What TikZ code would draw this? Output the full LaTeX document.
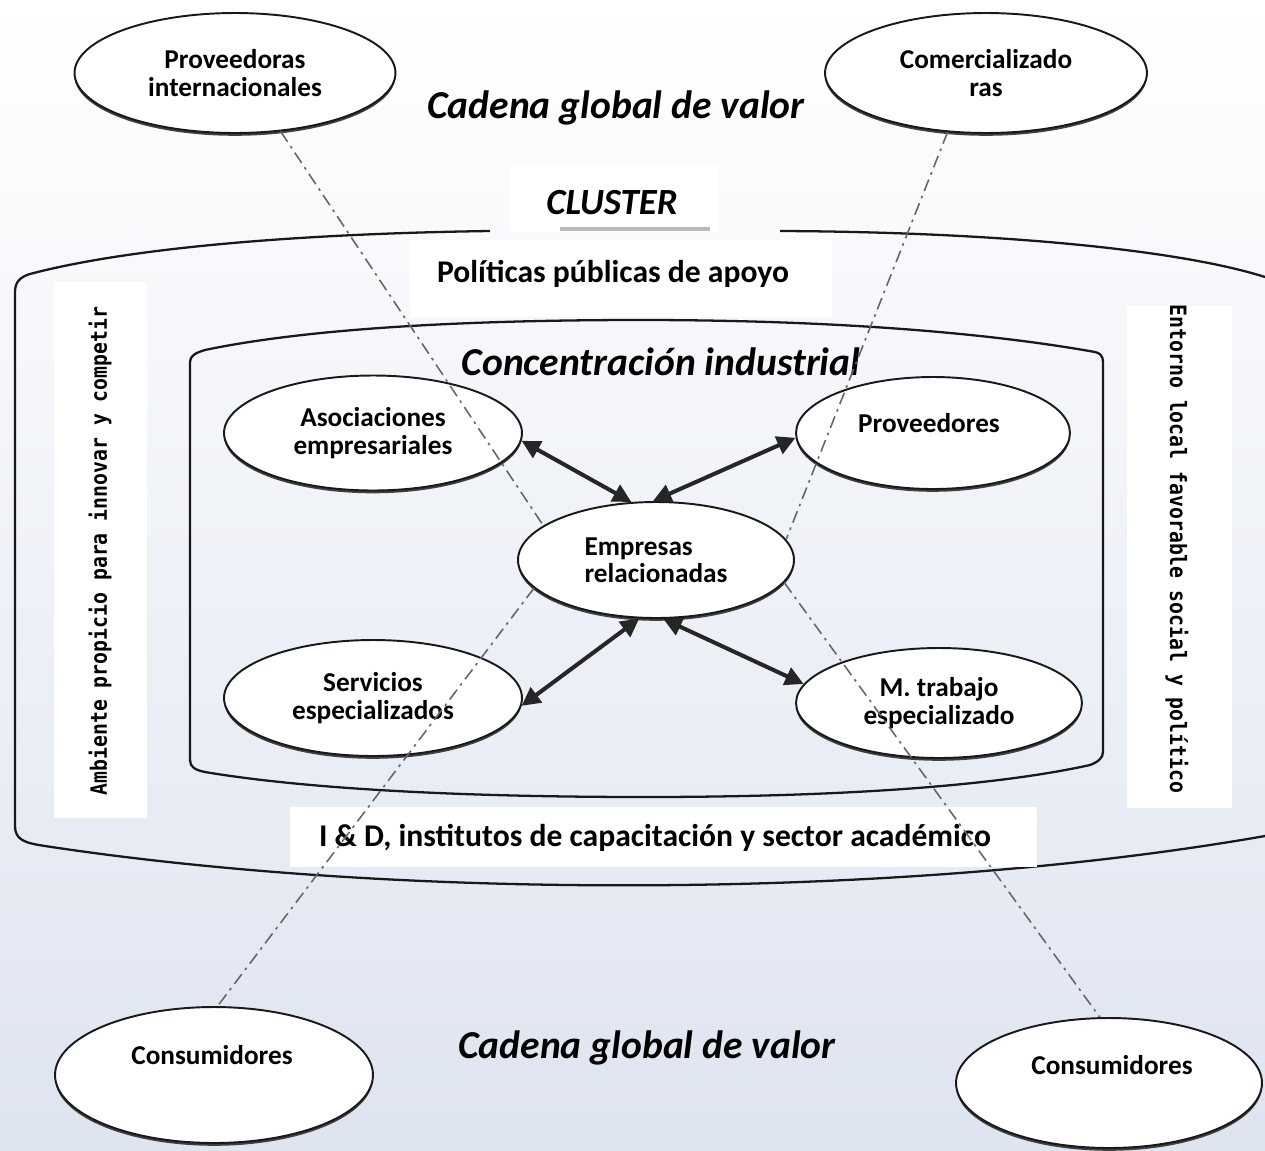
\documentclass[tikz,border=0pt]{standalone}
\usepackage{fontspec}
\setmainfont{Carlito}
\newfontfamily\monof{DejaVu Sans Mono}[FakeStretch=0.88]
\usetikzlibrary{arrows.meta,shapes.geometric,shadows}
\definecolor{bgb}{RGB}{222,228,240}
\definecolor{ln}{RGB}{25,25,25}
\tikzset{
 ell/.style={ellipse, draw=ln, line width=1.1pt, fill=white, inner sep=0pt, align=center,
   font=\bfseries\fontsize{15.5}{15.5}\selectfont,
   drop shadow={shadow xshift=0pt, shadow yshift=-1.6pt, fill=black!75, opacity=1}},
 lbl/.style={font=\bfseries\fontsize{15.5}{15.5}\selectfont, inner sep=0pt},
 ttl/.style={font=\bfseries\itshape\fontsize{22.5}{24}\selectfont, inner sep=0pt},
 wbox/.style={fill=white, draw=none, inner sep=0pt},
 boxtxt/.style={font=\bfseries\fontsize{18}{20}\selectfont, inner sep=0pt},
 side/.style={font=\monof\bfseries\fontsize{12.8}{13}\selectfont, inner sep=0pt},
 cl/.style={draw=ln, line width=1.3pt},
 dd/.style={draw=black!60, line width=0.9pt, dash pattern=on 7pt off 3pt on 1.5pt off 3pt},
 dbl/.style={draw=black!85, line width=2.3pt, {Triangle[length=10.5pt,width=10.5pt]}-{Triangle[length=10.5pt,width=10.5pt]}},
}
\begin{document}
\begin{tikzpicture}[x=0.02cm,y=-0.02cm]
\useasboundingbox (0,0) rectangle (1265,1150);
\shade[top color=white, bottom color=bgb] (0,0) rectangle (1265,1150);

% outer cluster shape
\draw[cl] (490,231) .. controls (280,234) and (120,250) .. (30,274)
  .. controls (20,277) and (15,282) .. (15,292) -- (15,826)
  .. controls (15,840) and (25,843) .. (45,846)
  .. controls (400,900) and (900,900) .. (1265,836);
\draw[cl] (780,231) .. controls (1000,232) and (1180,250) .. (1265,277);

% inner concentration shape
\draw[cl] (190,362) .. controls (190,356) and (195,353) .. (205,350)
  .. controls (300,330) and (450,320) .. (640,320)
  .. controls (850,320) and (1000,335) .. (1095,352)
  .. controls (1100,353) and (1103,356) .. (1103,362) -- (1103,752)
  .. controls (1103,758) and (1098,762) .. (1090,765)
  .. controls (1000,785) and (850,797) .. (645,797)
  .. controls (450,797) and (300,788) .. (205,772)
  .. controls (195,770) and (190,767) .. (190,760) -- cycle;

% white boxes
\node[wbox, minimum width=4.16cm, minimum height=1.34cm] (clbox) at (614,198.5) {};
\draw[gray!55, line width=2pt] (560,229) -- (710,229);
\node[wbox, minimum width=8.44cm, minimum height=1.54cm] (polbox) at (621,278.5) {};
\node[wbox, minimum width=14.94cm, minimum height=1.2cm] (idbox) at (663.5,837) {};
\node[wbox, minimum width=1.86cm, minimum height=10.72cm] (ambbox) at (100.5,550) {};
\node[wbox, minimum width=2.1cm, minimum height=10.04cm] (entbox) at (1179.5,557) {};

% texts
\node[ttl] (cgv1) at (616,108) {Cadena global de valor};
\node[ttl] (cgv2) at (647,1048) {Cadena global de valor};
\node[ttl, font=\bfseries\itshape\fontsize{21}{22}\selectfont] (clt) at (612,203) {CLUSTER};
\node[boxtxt] (polt) at (613,274) {Políticas públicas de apoyo};
\node[ttl] (conc) at (661,362) {Concentración industrial};
\node[boxtxt] (idt) at (655,838) {I \& D, institutos de capacitación y sector académico};
\node[side, rotate=90] (amb) at (100,551) {Ambiente propicio para innovar y competir};
\node[side, rotate=-90] (ent) at (1177,549) {Entorno local favorable social y político};

% ellipses
\node[ell, minimum width=6.42cm, minimum height=2.4cm] (pi) at (235,73) {Proveedoras\\internacionales};
\node[ell, minimum width=6.44cm, minimum height=2.4cm] (com) at (986,73) {Comercializado\\ras};
\node[ell, minimum width=5.96cm, minimum height=2.3cm] (aso) at (373,433) {Asociaciones\\empresariales};
\node[ell, minimum width=5.48cm, minimum height=2.24cm] (prov) at (933,433) {};
\node[lbl] (provt) at (929,423) {Proveedores};
\node[ell, minimum width=5.52cm, minimum height=2.32cm, align=left] (emp) at (656,560) {Empresas\\relacionadas};
\node[ell, minimum width=5.96cm, minimum height=2.32cm] (serv) at (373,698) {Servicios\\especializados};
\node[ell, minimum width=5.72cm, minimum height=2.2cm] (mt) at (939,703) {M. trabajo\\especializado};
\node[ell, minimum width=6.36cm, minimum height=2.72cm] (c1) at (214,1075) {};
\node[lbl] (c1t) at (212,1055) {Consumidores};
\node[ell, minimum width=6.12cm, minimum height=2.6cm] (c2) at (1109,1083) {};
\node[lbl] (c2t) at (1112,1065) {Consumidores};

% double arrows
\draw[dbl] (aso.-3) -- (emp.113);
\draw[dbl] (prov.182) -- (emp.93);
\draw[dbl] (serv.-3) -- (emp.-106);
\draw[dbl] (mt.172) -- (emp.-83);

% dash-dot links of the global value chain
\draw[dd] (pi.-52) -- (emp.163);
\draw[dd] (com.-123) -- (emp.9);
\draw[dd] (emp.-167) -- (c1.87);
\draw[dd] (emp.-10) -- (c2.98);
\end{tikzpicture}
\end{document}
